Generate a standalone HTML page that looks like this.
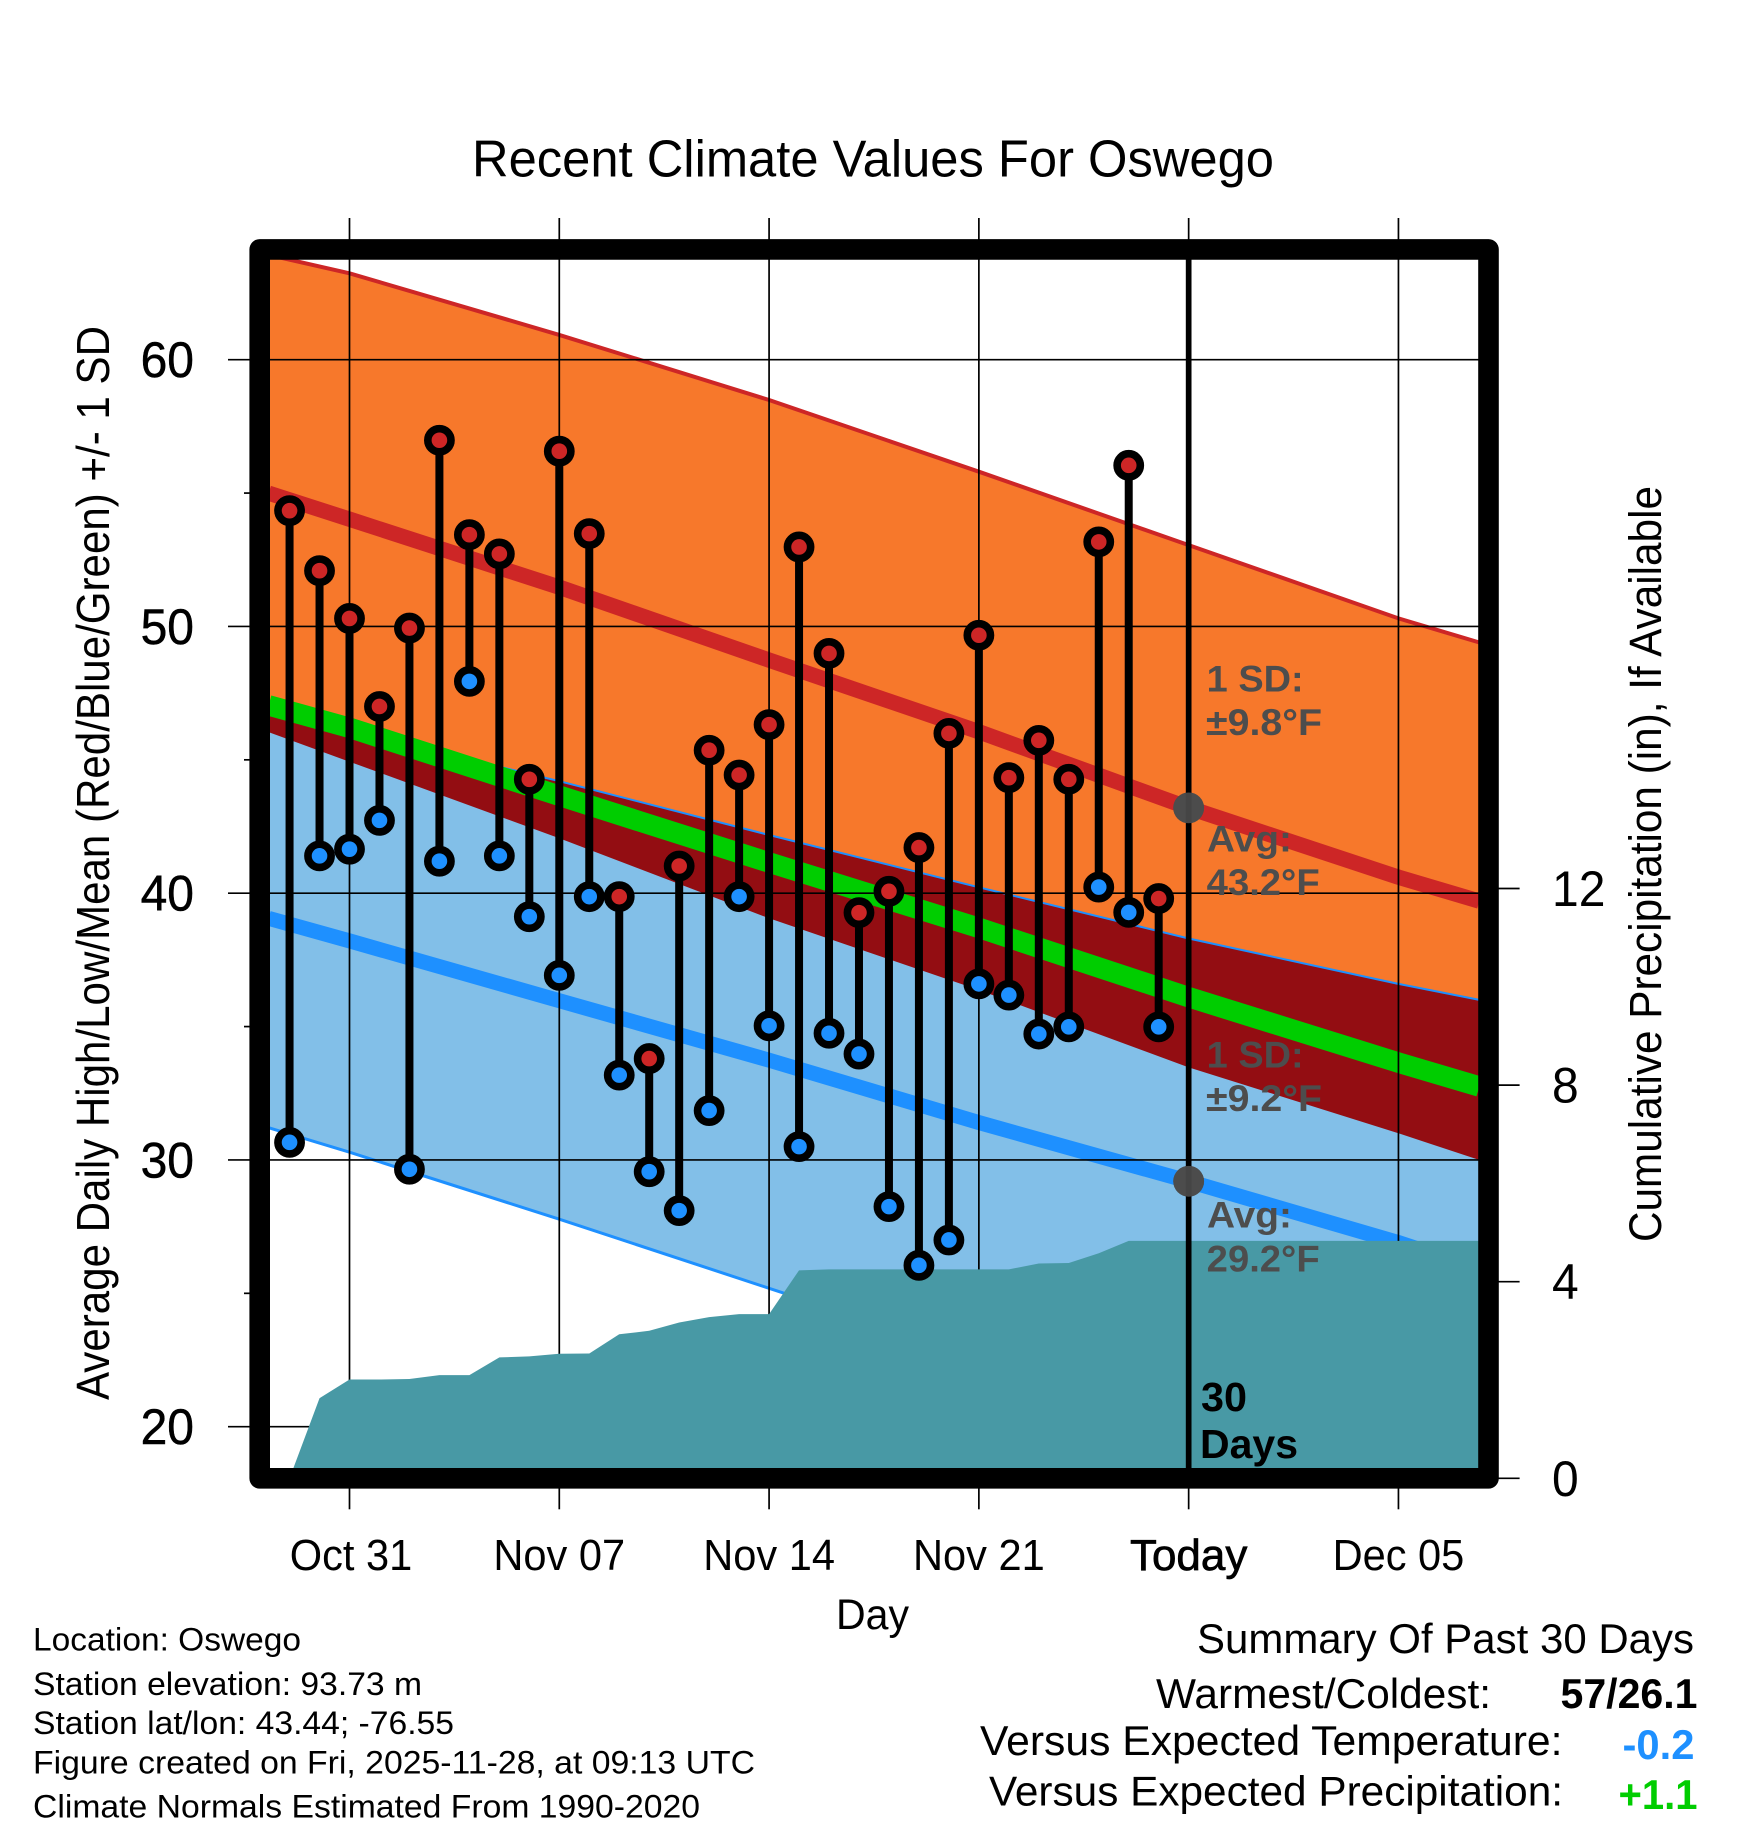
<!DOCTYPE html>
<html lang="en">
<head>
<meta charset="utf-8">
<title>Recent Climate Values For Oswego</title>
<style>
html,body{margin:0;padding:0;background:#fff;}
#chart{display:block;width:1748px;height:1828px;font-family:"Liberation Sans",Arial,sans-serif;}
text{font-family:"Liberation Sans",Arial,sans-serif;fill:#000;}
</style>
</head>
<body>
<svg id="chart" xmlns="http://www.w3.org/2000/svg" width="1748" height="1828" viewBox="0 0 1748 1828">
  <rect x="0" y="0" width="1748" height="1828" fill="#ffffff"/>
  <defs>
    <clipPath id="plot-clip"><rect x="259.7" y="249.4" width="1228.8" height="1228.9"/></clipPath>
  </defs>
  <g id="plot-under" clip-path="url(#plot-clip)"></g>
  <g id="ticks"></g>
  <g id="plot-over" clip-path="url(#plot-clip)"></g>
  <rect x="259.7" y="249.4" width="1228.8" height="1228.9" fill="none" stroke="#000" stroke-width="20.6" stroke-linejoin="round"/>
  <g id="markers" clip-path="url(#plot-clip)"></g>
  <g id="labels"></g>

  <text x="472" y="176.7" font-size="52" textLength="802" lengthAdjust="spacingAndGlyphs">Recent Climate Values For Oswego</text>
  <text transform="translate(109,1400) rotate(-90)" font-size="46" textLength="1074" lengthAdjust="spacingAndGlyphs">Average Daily High/Low/Mean (Red/Blue/Green) +/- 1 SD</text>
  <text transform="translate(1661,1242) rotate(-90)" font-size="45" textLength="756" lengthAdjust="spacingAndGlyphs">Cumulative Precipitation (in), If Available</text>
  <text x="836" y="1629" font-size="43" textLength="73" lengthAdjust="spacingAndGlyphs">Day</text>

  <g font-weight="bold" font-size="37">
    <text style="fill:#4d4d4d" x="1206.7" y="691.7" textLength="97" lengthAdjust="spacingAndGlyphs">1 SD:</text>
    <text style="fill:#4d4d4d" x="1206" y="735" textLength="116" lengthAdjust="spacingAndGlyphs">±9.8°F</text>
    <text style="fill:#4d4d4d" x="1207" y="851.7" textLength="85" lengthAdjust="spacingAndGlyphs">Avg:</text>
    <text style="fill:#4d4d4d" x="1206.7" y="895" textLength="113" lengthAdjust="spacingAndGlyphs">43.2°F</text>
  </g>
  <g font-weight="bold" font-size="37">
    <text style="fill:#4d4d4d" x="1206.7" y="1067.7" textLength="97" lengthAdjust="spacingAndGlyphs">1 SD:</text>
    <text style="fill:#4d4d4d" x="1206" y="1111" textLength="116" lengthAdjust="spacingAndGlyphs">±9.2°F</text>
    <text style="fill:#4d4d4d" x="1207" y="1227.7" textLength="85" lengthAdjust="spacingAndGlyphs">Avg:</text>
    <text style="fill:#4d4d4d" x="1206.7" y="1271.7" textLength="113" lengthAdjust="spacingAndGlyphs">29.2°F</text>
  </g>
  <text x="1201" y="1411" font-size="41" font-weight="bold" textLength="46" lengthAdjust="spacingAndGlyphs">30</text>
  <text x="1200" y="1458" font-size="41" font-weight="bold" textLength="98" lengthAdjust="spacingAndGlyphs">Days</text>

  <g font-size="32.5">
    <text x="33" y="1650.7" textLength="268" lengthAdjust="spacingAndGlyphs">Location: Oswego</text>
    <text x="33" y="1695" textLength="389" lengthAdjust="spacingAndGlyphs">Station elevation: 93.73 m</text>
    <text x="33" y="1734" textLength="421" lengthAdjust="spacingAndGlyphs">Station lat/lon: 43.44; -76.55</text>
    <text x="33" y="1773.3" textLength="722" lengthAdjust="spacingAndGlyphs">Figure created on Fri, 2025-11-28, at 09:13 UTC</text>
    <text x="33" y="1817.7" textLength="667" lengthAdjust="spacingAndGlyphs">Climate Normals Estimated From 1990-2020</text>
  </g>
  <g font-size="42">
    <text x="1197" y="1653" textLength="497" lengthAdjust="spacingAndGlyphs">Summary Of Past 30 Days</text>
    <text x="1156" y="1708" textLength="335" lengthAdjust="spacingAndGlyphs">Warmest/Coldest:</text>
    <text x="1560.5" y="1708" font-weight="bold" textLength="137" lengthAdjust="spacingAndGlyphs">57/26.1</text>
    <text x="980" y="1755" textLength="582.5" lengthAdjust="spacingAndGlyphs">Versus Expected Temperature:</text>
    <text style="fill:#1e90ff" x="1622.5" y="1759" font-weight="bold" textLength="72" lengthAdjust="spacingAndGlyphs">-0.2</text>
    <text x="989" y="1805.7" textLength="574" lengthAdjust="spacingAndGlyphs">Versus Expected Precipitation:</text>
    <text style="fill:#00cd00" x="1618.5" y="1809" font-weight="bold" textLength="79" lengthAdjust="spacingAndGlyphs">+1.1</text>
  </g>
</svg>
<script>
// ---- chart data (day offsets are days after Oct 31) ----
const xTickDays = [0, 7, 14, 21, 28, 35];
const xTickLabels = ["Oct 31", "Nov 07", "Nov 14", "Nov 21", "Today", "Dec 05"];
const yTickValues = [60, 50, 40, 30, 20];
const yMinorTickValues = [55, 45, 35, 25];
const precipTickValues = [12, 8, 4, 0];

const normalDays = [-2.7, 0, 7, 14, 21, 28, 35, 37.7];
const highUpper = [63.93, 63.24, 60.93, 58.49, 55.8, 53.05, 50.3, 49.4];
const highMean = [55.0, 54.02, 51.47, 48.74, 46.05, 43.2, 40.6, 39.7];
const highLower = [46.04, 44.93, 42.06, 39.06, 36.37, 33.47, 31.0, 30.0];
const meanMean = [47.04, 46.2, 43.65, 41.15, 38.7, 36.1, 33.65, 32.75];
const lowUpper = [47.0, 46.1, 44.2, 42.18, 40.22, 38.3, 36.6, 36.0];
const lowMean = [39.06, 38.21, 35.97, 33.74, 31.4, 29.2, 26.9, 25.9];
const lowLower = [31.21, 30.29, 27.78, 25.19, 22.6, 20.0, 17.4, 16.5];

const obsDays = [-2,-1,0,1,2,3,4,5,6,7,8,9,10,11,12,13,14,15,16,17,18,19,20,21,22,23,24,25,26,27];
const obsHigh = [54.34,52.09,50.3,47.0,49.94,56.98,53.44,52.72,44.27,56.57,53.48,39.87,33.8,41.02,45.36,44.43,46.32,52.98,48.99,39.27,40.07,41.71,45.99,49.67,44.33,45.73,44.27,53.17,56.04,39.8];
const obsLow = [30.66,41.4,41.65,42.73,29.65,41.2,47.94,41.4,39.12,36.92,39.87,33.18,29.56,28.1,31.85,39.87,35.03,30.5,34.75,33.97,28.25,26.05,27.0,36.6,36.18,34.72,34.99,40.23,39.28,34.99];

const precipDays = [-2,-1,0,1,2,3,4,5,6,7,8,9,10,11,12,13,14,15,16,17,18,19,20,21,22,23,24,25,26,27,28,38];
const precipValues = [0,1.63,2.01,2.01,2.02,2.1,2.1,2.46,2.48,2.535,2.54,2.93,3.0,3.17,3.28,3.34,3.34,4.23,4.25,4.25,4.25,4.25,4.25,4.25,4.25,4.37,4.38,4.58,4.83,4.83,4.83,4.83];

const todayDay = 28;
const todayHighAvg = 43.2;
const todayLowAvg = 29.2;

// ---- axis functions ----
const NS = "http://www.w3.org/2000/svg";
const xScale = d => 349.5 + d * 29.97;
const yScale = v => 359.7 + (60 - v) * 26.675;
const pScale = p => 1478.3 - p * 49.15;

function mk(tag, parent, attrs, text) {
  const el = document.createElementNS(NS, tag);
  for (const k in attrs) el.setAttribute(k, attrs[k]);
  if (text !== undefined) el.textContent = text;
  parent.appendChild(el);
  return el;
}
const linePts = (xs, ys) => xs.map((d, i) => xScale(d).toFixed(1) + "," + yScale(ys[i]).toFixed(1)).join(" ");
const bandPts = (xs, top, bottom) => linePts(xs, top) + " " + linePts(xs.slice().reverse(), bottom.slice().reverse());

const under = document.getElementById("plot-under");
const ticks = document.getElementById("ticks");
const over = document.getElementById("plot-over");
const markers = document.getElementById("markers");
const labels = document.getElementById("labels");

// ---- bands ----
let el;
el = mk("polygon", under, {points: bandPts(normalDays, highUpper, highLower), fill: "#f7782b"});


el = mk("polygon", under, {points: bandPts(normalDays, lowUpper, lowLower), fill: "#82bfe8"});


el = mk("polygon", under, {points: bandPts(normalDays, lowUpper, highLower), fill: "#930d12"});



el = mk("polyline", under, {points: linePts(normalDays, highUpper), fill: "none", stroke: "#cd2626", "stroke-width": 4});


el = mk("polyline", under, {points: linePts(normalDays, lowUpper), fill: "none", stroke: "#1e90ff", "stroke-width": 2});


el = mk("polyline", under, {points: linePts(normalDays, lowLower), fill: "none", stroke: "#1e90ff", "stroke-width": 3});



el = mk("polyline", under, {points: linePts(normalDays, highMean), fill: "none", stroke: "#cd2626", "stroke-width": 15.3});


el = mk("polyline", under, {points: linePts(normalDays, meanMean), fill: "none", stroke: "#00cd00", "stroke-width": 20.5});


el = mk("polyline", under, {points: linePts(normalDays, lowMean), fill: "none", stroke: "#1e90ff", "stroke-width": 15});



// ---- grid lines and ticks ----
xTickDays.forEach(d => {
  const g = mk("line", under, {x1: xScale(d), x2: xScale(d), y1: 249, y2: 1478, stroke: "#000", "stroke-width": 1.7});
  
  
  const t1 = mk("line", ticks, {x1: xScale(d), x2: xScale(d), y1: 218, y2: 240, stroke: "#000", "stroke-width": 1.7});
  
  
  const t2 = mk("line", ticks, {x1: xScale(d), x2: xScale(d), y1: 1488, y2: 1509.3, stroke: "#000", "stroke-width": 1.7});
  
  
});
yTickValues.forEach(v => {
  const g = mk("line", under, {x1: 259, x2: 1488, y1: yScale(v), y2: yScale(v), stroke: "#000", "stroke-width": 1.7});
  
  
  const t = mk("line", ticks, {x1: 228, x2: 250, y1: yScale(v), y2: yScale(v), stroke: "#000", "stroke-width": 1.7});
  
  
  const lb = mk("text", labels, {x: 194, y: yScale(v) + 17.5, "font-size": 50, "text-anchor": "end", style: "stroke:#000;stroke-width:0.5px"}, String(v));
  
  
  lb.setAttribute('textLength', lb.getComputedTextLength() * 0.96);
  lb.setAttribute('lengthAdjust', 'spacingAndGlyphs');
});
yMinorTickValues.forEach(v => {
  const t = mk("line", ticks, {x1: 244, x2: 250, y1: yScale(v), y2: yScale(v), stroke: "#000", "stroke-width": 1.7});
  
  
});
precipTickValues.forEach(p => {
  const t = mk("line", ticks, {x1: 1498, x2: 1519.6, y1: pScale(p), y2: pScale(p), stroke: "#000", "stroke-width": 1.7});
  
  
  const lb = mk("text", labels, {x: 1552, y: pScale(p) + 17.5, "font-size": 50}, String(p));
  
  
  lb.setAttribute('textLength', lb.getComputedTextLength() * 0.96);
  lb.setAttribute('lengthAdjust', 'spacingAndGlyphs');
});
xTickLabels.forEach((s, i) => {
  const lb = mk("text", labels, {x: xScale(xTickDays[i]) + (i === 0 ? 1.5 : 0), y: 1570, "font-size": 44, "text-anchor": "middle"}, s);
  
  
  if (s === "Today") {
    lb.setAttribute("style", "stroke:#000;stroke-width:0.7px");
  } else {
    lb.setAttribute('textLength', lb.getComputedTextLength() * 0.945);
    lb.setAttribute('lengthAdjust', 'spacingAndGlyphs');
  }
});

// ---- cumulative precipitation ----
el = mk("polygon", under, {
  points: precipDays.map((d, i) => xScale(d).toFixed(1) + "," + pScale(precipValues[i]).toFixed(1)).join(" ") + " " +
          xScale(precipDays[precipDays.length - 1]).toFixed(1) + "," + pScale(0) + " " + xScale(precipDays[0]).toFixed(1) + "," + pScale(0),
  fill: "#4899a5"});



// ---- today marker ----
[todayHighAvg, todayLowAvg].forEach(v => {
  const c = mk("circle", over, {cx: xScale(todayDay), cy: yScale(v), r: 15.4, fill: "#4d4d4d"});
  
  
});
el = mk("line", over, {x1: xScale(todayDay), x2: xScale(todayDay), y1: 249, y2: 1478, stroke: "#000", "stroke-width": 5.7});


[todayHighAvg, todayLowAvg].forEach(v => {
  const c = mk("circle", over, {cx: xScale(todayDay), cy: yScale(v), r: 15.4, fill: "#4d4d4d", opacity: 0.9});
  
  
});

// ---- daily high/low stems and markers ----
obsDays.forEach((d, i) => {
  const s = mk("line", markers, {x1: xScale(d), x2: xScale(d), y1: yScale(obsHigh[i]), y2: yScale(obsLow[i]), stroke: "#000", "stroke-width": 8});
  
  
});
obsDays.forEach((d, i) => {
  const lo = mk("circle", markers, {cx: xScale(d), cy: yScale(obsLow[i]), r: 11.6, fill: "#1e90ff", stroke: "#000", "stroke-width": 7.6});
  
  
  const hi = mk("circle", markers, {cx: xScale(d), cy: yScale(obsHigh[i]), r: 11.6, fill: "#cd2626", stroke: "#000", "stroke-width": 7.6});
  
  
});
</script>
</body>
</html>
